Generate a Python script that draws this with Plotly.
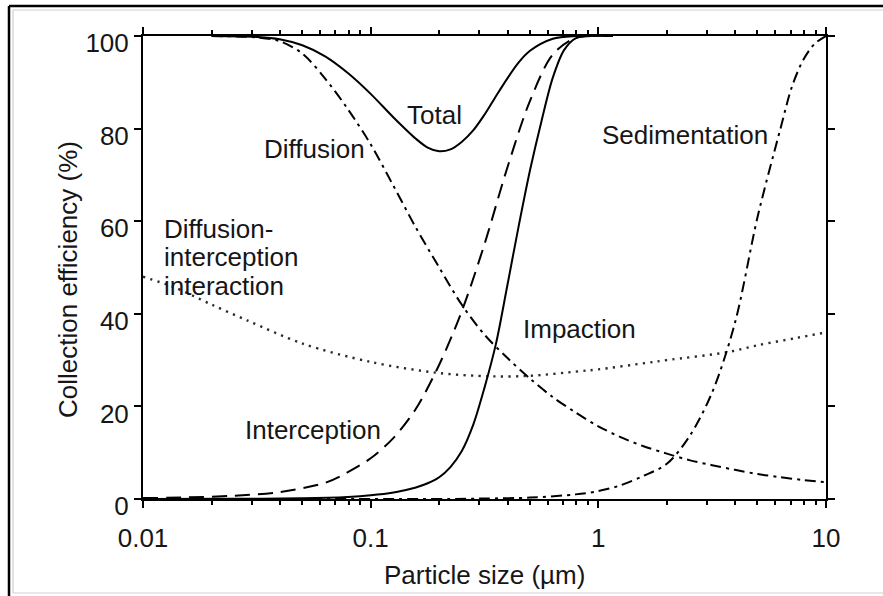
import math
import plotly.graph_objects as go

# ---- curve data: particle size (µm) vs collection efficiency (%) ----
total_x = [0.02, 0.0316, 0.0398, 0.0501, 0.0631, 0.0794, 0.1, 0.126, 0.158, 0.178, 0.2,
           0.224, 0.251, 0.282, 0.316, 0.355, 0.398, 0.447, 0.501, 0.631, 0.794, 1.16]
total_y = [100, 99.8, 99.3, 98.0, 95.6, 92.0, 87.5, 82.4, 77.8, 75.9, 75.1,
           75.5, 77.1, 79.6, 83.0, 87.0, 90.8, 94.3, 96.8, 99.4, 100, 100]

diffusion_x = [0.02, 0.0316, 0.0398, 0.0501, 0.0631, 0.0794, 0.1, 0.126, 0.158, 0.2, 0.251,
               0.316, 0.398, 0.501, 0.631, 0.794, 1.0, 1.26, 1.58, 2.0, 2.51, 3.16, 3.98,
               5.01, 6.31, 7.94, 10]
diffusion_y = [100, 99.7, 98.9, 96.2, 90.8, 84.2, 76.6, 67.6, 58.6, 50.0, 42.0,
               35.5, 30.5, 26.0, 22.0, 18.7, 15.7, 13.3, 11.4, 9.8, 8.4, 7.3, 6.3,
               5.4, 4.7, 4.1, 3.6]

interception_x = [0.01, 0.0158, 0.0251, 0.0398, 0.0631, 0.0794, 0.1, 0.126, 0.158, 0.2,
                  0.251, 0.316, 0.398, 0.501, 0.631, 0.794, 1.0]
interception_y = [0.2, 0.35, 0.7, 1.5, 3.5, 5.8, 8.8, 13.2, 19.5, 29.0,
                  40.5, 55.0, 71.5, 86.0, 96.0, 99.6, 100]

impaction_x = [0.01, 0.0251, 0.0501, 0.0794, 0.1, 0.126, 0.141, 0.158, 0.178, 0.2, 0.224,
               0.251, 0.282, 0.316, 0.355, 0.398, 0.447, 0.501, 0.562, 0.631, 0.708,
               0.794, 0.891, 1.0]
impaction_y = [0, 0.05, 0.15, 0.45, 0.8, 1.4, 1.9, 2.5, 3.4, 4.7, 6.9,
               10.3, 16.0, 24.0, 33.5, 46.0, 59.0, 71.0, 81.5, 91.0, 97.0,
               99.5, 100, 100]

sedimentation_x = [0.01, 0.2, 0.316, 0.501, 0.794, 1.0, 1.26, 1.58, 2.0, 2.51, 3.16, 3.98,
                   5.01, 6.31, 7.08, 7.94, 8.91, 10]
sedimentation_y = [0, 0, 0.1, 0.3, 1.0, 1.7, 3.0, 5.0, 7.6, 13.5, 23.0, 38.0,
                   61.0, 80.0, 89.0, 94.8, 98.3, 100]

interaction_x = [0.01, 0.0136, 0.02, 0.0286, 0.05, 0.1, 0.2, 0.335, 0.5, 0.83, 1.0, 1.63,
                 2.0, 3.68, 5, 7.45, 10]
interaction_y = [48, 45.8, 42, 38.6, 33.6, 29.6, 27.2, 26.5, 26.6, 27.6, 28, 29.4,
                 30, 31.7, 33.2, 34.8, 36]

x_tick_vals = [0.01, 0.1, 1, 10]
x_tick_text = ["0.01", "0.1", "1", "10"]
y_tick_vals = [0, 20, 40, 60, 80, 100]

FONT = "Liberation Sans, Arial, sans-serif"
INK = "#161616"

W, H = 883, 596
L, R, T, B = 143, 826, 36, 499


def px_x(p):
    return (p - L) / (R - L)


def px_y(p):
    return (B - p) / (B - T)


fig = go.Figure()


def add_curve(x, y, dash, width=2.0, color="black"):
    fig.add_trace(go.Scatter(
        x=x, y=y, mode="lines",
        line=dict(color=color, width=width, dash=dash, shape="spline", smoothing=0.9),
        showlegend=False, hoverinfo="skip"))


add_curve(interaction_x, interaction_y, "2.2px,5.3px", width=2.4, color="#2a2a2a")
add_curve(sedimentation_x, sedimentation_y, "11px,5px,3px,5px")
add_curve(diffusion_x, diffusion_y, "11px,5px,3px,5px")
add_curve(interception_x, interception_y, "15px,8px")
add_curve(impaction_x, impaction_y, "solid")
add_curve(total_x, total_y, "solid")

# ---- curve labels ----
labels = [
    ("Total", 0.191, 83.0, "center"),
    ("Diffusion", 0.0564, 75.6, "center"),
    ("Diffusion-", 0.0121, 58.3, "left"),
    ("interception", 0.0121, 52.2, "left"),
    ("interaction", 0.0121, 46.0, "left"),
    ("Interception", 0.0558, 15.0, "center"),
    ("Impaction", 0.83, 36.8, "center"),
    ("Sedimentation", 2.40, 78.6, "center"),
]
for text, lx, ly, anchor in labels:
    fig.add_annotation(
        x=math.log10(lx), y=ly, text=text, showarrow=False,
        xanchor=anchor, yanchor="middle",
        font=dict(family=FONT, size=26, color=INK))

# ---- axis titles ----
fig.add_annotation(
    xref="paper", yref="paper", x=px_x(484.5), y=px_y(575),
    text="Particle size (µm)", showarrow=False, xanchor="center", yanchor="middle",
    font=dict(family=FONT, size=26, color=INK))
fig.add_annotation(
    xref="paper", yref="paper", x=px_x(68), y=px_y(280),
    text="Collection efficiency (%)", showarrow=False, textangle=-90,
    xanchor="center", yanchor="middle",
    font=dict(family=FONT, size=26, color=INK))

# ---- frame around the whole graphic ----
frame = [
    (9, 6, W, 6, "black", 2.5),
    (9, 6, 9, H, "black", 2.5),
    (13, 10, W, 10, "#cfcfcf", 1.2),
    (13, 10, 13, 593, "#cfcfcf", 1.2),
    (13, 593, W, 593, "#cfcfcf", 1.2),
]
for x0, y0, x1, y1, col, w in frame:
    fig.add_shape(type="line", xref="paper", yref="paper",
                  x0=px_x(x0), y0=px_y(y0), x1=px_x(x1), y1=px_y(y1),
                  line=dict(color=col, width=w), layer="above")

axis_common = dict(
    showline=True, linecolor="black", linewidth=2, mirror="ticks",
    ticks="outside", tickcolor="black", tickwidth=2, ticklen=7,
    showgrid=False, zeroline=False,
    tickfont=dict(family=FONT, size=26, color=INK),
)

fig.update_layout(
    width=W, height=H,
    margin=dict(l=L, r=W - R, t=T, b=H - B),
    paper_bgcolor="white", plot_bgcolor="white",
    xaxis=dict(
        type="log", range=[-2, 1],
        tickvals=x_tick_vals, ticktext=x_tick_text,
        ticklabelstandoff=8,
        minor=dict(ticks="outside", ticklen=4, tickwidth=1.5, tickcolor="black",
                   tickvals=[m * d for d in (0.01, 0.1, 1) for m in range(2, 10)]),
        **axis_common,
    ),
    yaxis=dict(
        range=[0, 100], tickvals=y_tick_vals,
        ticklabelshift=7, ticklabelstandoff=0,
        **axis_common,
    ),
)

fig.write_html("out.html")
